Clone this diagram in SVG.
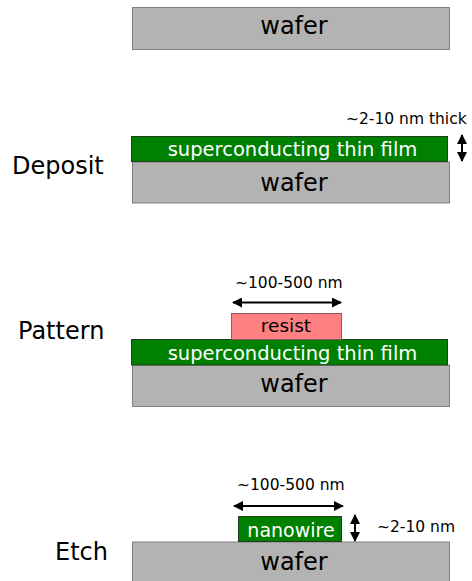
<svg xmlns="http://www.w3.org/2000/svg" width="472" height="581" viewBox="0 0 472 581">
<style>
.wafer{fill:#b3b3b3;stroke:#808080;stroke-width:1}
.film{fill:#008000;stroke:#1f3f1f;stroke-width:1}
.resist{fill:#ff8080;stroke:#8a5a5a;stroke-width:1}
text{font-family:"DejaVu Sans",Verdana,sans-serif}
.wt{font-size:24px;fill:#000;text-anchor:middle}
.ft{font-size:19.5px;fill:#fff;text-anchor:middle}
.lbl{font-size:24px;fill:#000}
.dim{font-size:15.5px;fill:#000}
.arr{stroke:#000;stroke-width:2;fill:none;marker-start:url(#ah);marker-end:url(#ah)}
</style>
<defs>
<marker id="ah" viewBox="0 0 10 10" refX="9" refY="5" markerWidth="5" markerHeight="5" orient="auto-start-reverse" markerUnits="strokeWidth">
<path d="M0,0 L10,5 L0,10 Z" fill="#000"/>
</marker>
</defs>
<g id="step0">
<rect class="wafer" x="132.5" y="7.5" width="317" height="42"/>
<text class="wt" x="294" y="34">wafer</text>
</g>
<g id="deposit">
<text class="lbl" x="12" y="174">Deposit</text>
<rect class="wafer" x="132.5" y="162" width="317" height="41"/>
<text class="wt" x="294" y="191">wafer</text>
<rect class="film" x="131.5" y="136.5" width="316" height="25"/>
<text class="ft" x="292.5" y="156">superconducting thin film</text>
<text class="dim" x="346" y="124">~2-10 nm thick</text>
</g>
<g id="pattern">
<text class="lbl" x="18" y="339">Pattern</text>
<rect class="wafer" x="132.5" y="365" width="317" height="41.5"/>
<text class="wt" x="294" y="392">wafer</text>
<rect class="film" x="131.5" y="339.5" width="316" height="25.5"/>
<text class="ft" x="292.5" y="360">superconducting thin film</text>
<rect class="resist" x="231.5" y="313.5" width="110" height="26"/>
<text class="wt" x="286" y="332" style="font-size:18.5px">resist</text>
<text class="dim" x="235" y="288">~100-500 nm</text>
</g>
<g id="etch">
<text class="lbl" x="55" y="560">Etch</text>
<rect class="wafer" x="132.5" y="542" width="317" height="42"/>
<text class="wt" x="294" y="570">wafer</text>
<rect class="film" x="238.5" y="516.5" width="103" height="25"/>
<text class="ft" x="291" y="537" style="font-size:19px">nanowire</text>
<text class="dim" x="237" y="490">~100-500 nm</text>
<text class="dim" x="377" y="532">~2-10 nm</text>
</g>
<g id="connectors">
<line class="arr" x1="462" y1="135" x2="462" y2="161"/>
<line class="arr" x1="233" y1="302.5" x2="341" y2="302.5"/>
<line class="arr" x1="234" y1="506" x2="343" y2="506"/>
<line class="arr" x1="355" y1="515" x2="355" y2="541"/>
</g>
</svg>
